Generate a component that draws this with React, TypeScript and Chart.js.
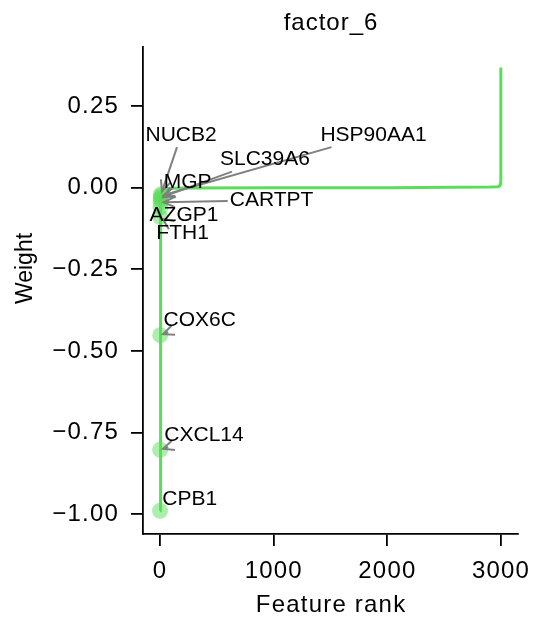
import React, { useEffect, useRef } from 'react';
import { Chart, registerables } from 'chart.js';

Chart.register(...registerables);

const TITLE = 'factor_6';
const X_LABEL = 'Feature rank';
const Y_LABEL = 'Weight';

// sorted feature weights (rank -> weight)
const featureRanks = [0, 1, 2, 3, 4, 5, 6, 7, 8, 9, 12, 20, 40, 100, 300, 1000, 1500, 2000, 2600, 2900, 2975, 2988, 2994, 2997, 2998, 2999];
const featureWeights = [-0.99, -0.803, -0.452, -0.09, -0.06, -0.045, -0.035, -0.03, -0.025, -0.02, -0.012, -0.007, -0.004, -0.002, -0.001, 0, 0, 0, 0.001, 0.002, 0.003, 0.006, 0.012, 0.03, 0.08, 0.368];

// highlighted genes
const geneNames = ['CPB1', 'CXCL14', 'COX6C', 'FTH1', 'AZGP1', 'CARTPT', 'MGP', 'SLC39A6', 'HSP90AA1', 'NUCB2'];
const geneRanks = [0, 1, 2, 3, 4, 5, 6, 7, 8, 9];
const geneWeights = [-0.99, -0.803, -0.452, -0.09, -0.06, -0.045, -0.035, -0.03, -0.025, -0.02];
// where each gene's text sits (data coordinates)
const geneLabelRanks = [261, 387, 349, 198, 211, 981, 242, 923, 1878, 185];
const geneLabelWeights = [-0.955, -0.758, -0.406, -0.139, -0.083, -0.038, 0.017, 0.086, 0.161, 0.161];

const xTicks = [0, 1000, 2000, 3000];
const yTicks = [-1.0, -0.75, -0.5, -0.25, 0, 0.25];
const xRange = [-150, 3149];
const yRange = [-1.061, 0.431];

const FONT = '"Liberation Sans", Arial, Helvetica, sans-serif';
const LINE_COLOR = 'rgb(90, 222, 90)';
const POINT_COLOR = 'rgba(90, 222, 90, 0.5)';
const ARROW_COLOR = 'rgb(128, 128, 128)';
const TICK_SPACING = '1.2px';

const fmtY = (v: number) => {
  const s = Math.abs(v).toFixed(2);
  return v < 0 ? '\u2212' + s : s;
};

export default function App() {
  const ref = useRef<HTMLCanvasElement | null>(null);

  useEffect(() => {
    const canvas = ref.current;
    if (!canvas) return;

    const spacingPlugin = {
      id: 'spacing',
      beforeLayout(chart: any) {
        chart.ctx.letterSpacing = TICK_SPACING;
      },
      beforeDraw(chart: any) {
        chart.ctx.letterSpacing = TICK_SPACING;
      },
    };

    const labelPlugin = {
      id: 'geneLabels',
      afterDatasetsDraw(chart: any) {
        const { ctx } = chart;
        const xs = chart.scales.x;
        const ys = chart.scales.y;
        ctx.save();
        ctx.letterSpacing = '0px';
        ctx.font = `21px ${FONT}`;
        ctx.textAlign = 'center';
        ctx.textBaseline = 'middle';
        geneNames.forEach((name, i) => {
          const px = xs.getPixelForValue(geneRanks[i]);
          const py = ys.getPixelForValue(geneWeights[i]);
          const tx = xs.getPixelForValue(geneLabelRanks[i]);
          const ty = ys.getPixelForValue(geneLabelWeights[i]);
          const hw = ctx.measureText(name).width / 2 + 2;
          const hh = 12;
          const dx = px - tx;
          const dy = py - ty;
          const t = Math.min(
            dx !== 0 ? hw / Math.abs(dx) : Infinity,
            dy !== 0 ? hh / Math.abs(dy) : Infinity
          );
          if (t >= 1) return;
          const sx = tx + dx * t;
          const sy = ty + dy * t;
          const len = Math.hypot(px - sx, py - sy);
          if (len < 4) return;
          const ux = (px - sx) / len;
          const uy = (py - sy) / len;
          const ex = px - ux * 3;
          const ey = py - uy * 3;
          ctx.strokeStyle = ARROW_COLOR;
          ctx.lineWidth = 2;
          ctx.lineCap = 'butt';
          ctx.beginPath();
          ctx.moveTo(sx, sy);
          ctx.lineTo(ex, ey);
          ctx.stroke();
          const back = Math.atan2(-uy, -ux);
          const L = 12;
          const a = 0.42;
          ctx.beginPath();
          ctx.moveTo(ex + L * Math.cos(back + a), ey + L * Math.sin(back + a));
          ctx.lineTo(ex, ey);
          ctx.lineTo(ex + L * Math.cos(back - a), ey + L * Math.sin(back - a));
          ctx.stroke();
        });
        ctx.fillStyle = '#000';
        geneNames.forEach((name, i) => {
          const tx = xs.getPixelForValue(geneLabelRanks[i]);
          const ty = ys.getPixelForValue(geneLabelWeights[i]);
          ctx.fillText(name, tx, ty);
        });
        ctx.restore();
      },
    };

    const titlesPlugin = {
      id: 'titles',
      afterDraw(chart: any) {
        const { ctx, chartArea } = chart;
        const cx = (chartArea.left + chartArea.right) / 2;
        const cy = (chartArea.top + chartArea.bottom) / 2;
        ctx.save();
        ctx.fillStyle = '#000';
        ctx.textAlign = 'center';
        ctx.textBaseline = 'alphabetic';
        ctx.font = `24px ${FONT}`;
        // chart title
        ctx.letterSpacing = '1px';
        ctx.fillText(TITLE, cx + 0.5, 30);
        // x title
        ctx.letterSpacing = '1.2px';
        ctx.fillText(X_LABEL, cx + 0.6, 612);
        // y title
        ctx.font = `23px ${FONT}`;
        ctx.letterSpacing = '0px';
        ctx.translate(32, cy - 22);
        ctx.rotate(-Math.PI / 2);
        ctx.fillText(Y_LABEL, 0, 0);
        ctx.restore();
      },
    };

    const chart = new Chart(canvas, {
      type: 'line',
      data: {
        datasets: [
          {
            type: 'line',
            data: featureRanks.map((r, i) => ({ x: r, y: featureWeights[i] })),
            borderColor: LINE_COLOR,
            borderWidth: 3,
            pointRadius: 0,
            tension: 0,
            fill: false,
            order: 0,
          } as any,
          {
            type: 'scatter',
            data: geneRanks.map((r, i) => ({ x: r, y: geneWeights[i] })),
            backgroundColor: POINT_COLOR,
            borderWidth: 0,
            pointRadius: 8,
            order: 1,
          } as any,
        ],
      },
      options: {
        animation: false,
        responsive: false,
        devicePixelRatio: 1,
        layout: { padding: { left: 0, right: 28, top: 47, bottom: 0 } },
        plugins: {
          legend: { display: false },
          tooltip: { enabled: false },
          title: { display: false },
        },
        scales: {
          x: {
            type: 'linear',
            min: xRange[0],
            max: xRange[1],
            afterBuildTicks: (s: any) => {
              s.ticks = xTicks.map((v) => ({ value: v }));
            },
            afterFit: (s: any) => {
              s.height = 100;
            },
            ticks: {
              color: '#000',
              font: { family: FONT, size: 24 },
              padding: 11,
              maxRotation: 0,
              autoSkip: false,
              callback: (v: any) => String(v),
            },
            grid: {
              display: true,
              drawOnChartArea: false,
              drawTicks: true,
              tickLength: 12,
              tickColor: '#000',
              tickWidth: 1.8,
              color: '#000',
              lineWidth: 1.8,
            },
            border: { display: true, color: '#000', width: 1.8 },
            title: { display: false },
          },
          y: {
            type: 'linear',
            min: yRange[0],
            max: yRange[1],
            afterBuildTicks: (s: any) => {
              s.ticks = yTicks.map((v) => ({ value: v }));
            },
            afterFit: (s: any) => {
              s.width = 143;
            },
            ticks: {
              color: '#000',
              font: { family: FONT, size: 24 },
              padding: 12,
              autoSkip: false,
              callback: (v: any) => fmtY(Number(v)),
            },
            grid: {
              display: true,
              drawOnChartArea: false,
              drawTicks: true,
              tickLength: 12,
              tickColor: '#000',
              tickWidth: 1.8,
              color: '#000',
              lineWidth: 1.8,
            },
            border: { display: true, color: '#000', width: 1.8 },
            title: { display: false },
          },
        },
      } as any,
      plugins: [spacingPlugin, labelPlugin, titlesPlugin],
    });

    return () => chart.destroy();
  }, []);

  return (
    <div style={{ position: 'absolute', left: 0, top: 0, width: 546, height: 634, background: '#fff' }}>
      <canvas ref={ref} width={546} height={634} style={{ width: 546, height: 634, display: 'block' }} />
    </div>
  );
}
